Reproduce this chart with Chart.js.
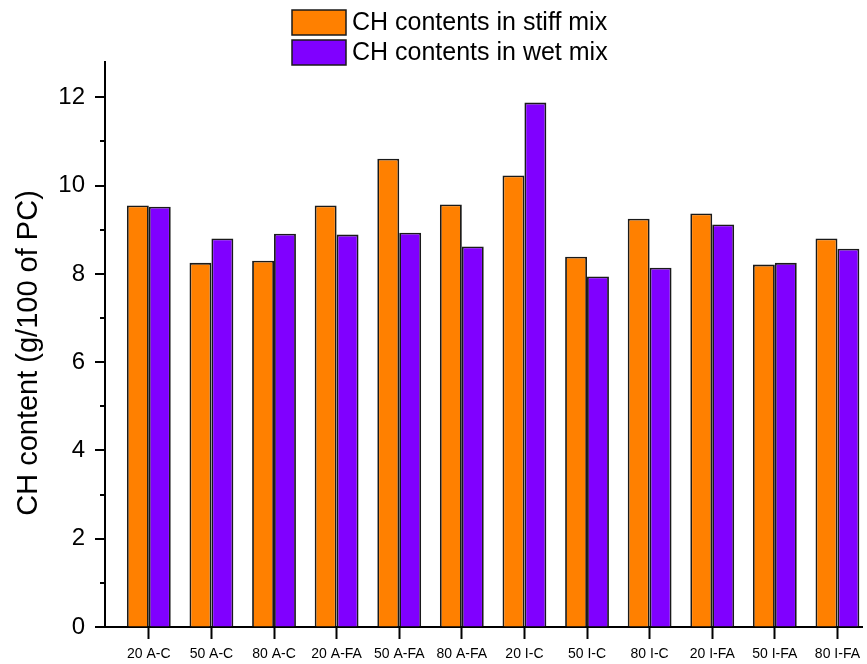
<!DOCTYPE html>
<html>
<head>
<meta charset="utf-8">
<script src="https://cdn.jsdelivr.net/npm/chart.js@4.4.1/dist/chart.umd.min.js"></script>
<style>
  html, body { margin: 0; padding: 0; background: #fff; overflow: hidden; }
  canvas { display: block; }
</style>
</head>
<body>
<canvas id="chChart" width="867" height="664"></canvas>
<script>
const categories = ['20 A-C', '50 A-C', '80 A-C', '20 A-FA', '50 A-FA', '80 A-FA',
  '20 I-C', '50 I-C', '80 I-C', '20 I-FA', '50 I-FA', '80 I-FA'];
const stiffMix = [9.55, 8.25, 8.30, 9.55, 10.61, 9.57, 10.23, 8.39, 9.25, 9.37, 8.21, 8.80];
const wetMix = [9.52, 8.80, 8.91, 8.89, 8.93, 8.62, 11.88, 7.94, 8.14, 9.12, 8.25, 8.57];
const seriesNames = ['CH contents in stiff mix', 'CH contents in wet mix'];
const seriesColors = ['#ff8000', '#8000ff'];
const yTitle = 'CH content (g/100 of PC)';

const FONT = '"Liberation Sans", Arial, sans-serif';

function toPoints(values) {
  return values.map((v, i) => ({ x: i + 1, y: v }));
}

// y ticks: long ones on even values, short ones in between
const yTickMarks = {
  id: 'yTickMarks',
  afterDraw(chart) {
    const ctx = chart.ctx;
    const y = chart.scales.y;
    ctx.save();
    ctx.strokeStyle = '#000';
    ctx.lineWidth = 2;
    for (let v = 0; v <= 12; v++) {
      const py = Math.round(y.getPixelForValue(v));
      const len = v % 2 === 0 ? 10 : 5;
      ctx.beginPath();
      ctx.moveTo(y.right - len, py);
      ctx.lineTo(y.right, py);
      ctx.stroke();
    }
    ctx.restore();
  }
};

// stacked legend above the plot and the rotated axis title
const extras = {
  id: 'extras',
  afterDraw(chart) {
    const ctx = chart.ctx;
    ctx.save();
    ctx.font = `25px ${FONT}`;
    ctx.textBaseline = 'middle';
    ctx.textAlign = 'left';
    seriesNames.forEach((name, i) => {
      const top = 10 + i * 30;
      ctx.fillStyle = seriesColors[i];
      ctx.fillRect(292, top, 54, 25);
      ctx.strokeStyle = '#1a1a1a';
      ctx.lineWidth = 1.5;
      ctx.strokeRect(292, top, 54, 25);
      ctx.fillStyle = '#000';
      ctx.fillText(name, 352, top + 13);
    });

    ctx.translate(29, 353);
    ctx.rotate(-Math.PI / 2);
    ctx.textAlign = 'center';
    ctx.font = `29px ${FONT}`;
    ctx.fillText(yTitle, 0, 0);
    ctx.restore();
  }
};

new Chart(document.getElementById('chChart'), {
  type: 'bar',
  data: {
    datasets: [
      {
        label: seriesNames[0],
        data: toPoints(stiffMix),
        backgroundColor: seriesColors[0],
        borderColor: '#1a1a1a',
        borderWidth: 1.8
      },
      {
        label: seriesNames[1],
        data: toPoints(wetMix),
        backgroundColor: seriesColors[1],
        borderColor: '#1a1a1a',
        borderWidth: 1.8
      }
    ]
  },
  options: {
    responsive: false,
    animation: false,
    categoryPercentage: 0.7,
    barPercentage: 1.0,
    layout: { padding: { top: 62, right: 0, left: 0, bottom: 0 } },
    plugins: {
      legend: { display: false },
      tooltip: { enabled: false }
    },
    scales: {
      x: {
        type: 'linear',
        offset: false,
        min: 0.3,
        max: 12.4,
        afterFit(s) { s.height = 37; },
        afterBuildTicks(s) { s.ticks = categories.map((_, i) => ({ value: i + 1 })); },
        border: { color: '#000', width: 2 },
        grid: { offset: false, drawOnChartArea: false, drawTicks: true, tickLength: 12, tickColor: '#000', tickWidth: 2 },
        ticks: {
          autoSkip: false,
          maxRotation: 0,
          padding: 7,
          color: '#000',
          font: { family: FONT, size: 14 },
          callback: v => categories[v - 1]
        }
      },
      y: {
        min: 0,
        max: 12.8,
        afterFit(s) { s.width = 105; },
        afterBuildTicks(s) {
          const t = [];
          for (let v = 0; v <= 12; v += 2) t.push({ value: v });
          s.ticks = t;
        },
        border: { color: '#000', width: 2 },
        grid: { drawOnChartArea: false, drawTicks: true, tickLength: 10, tickColor: 'rgba(0,0,0,0)' },
        ticks: {
          padding: 10,
          color: '#000',
          font: { family: FONT, size: 24 }
        }
      }
    }
  },
  plugins: [yTickMarks, extras]
});
</script>
</body>
</html>
